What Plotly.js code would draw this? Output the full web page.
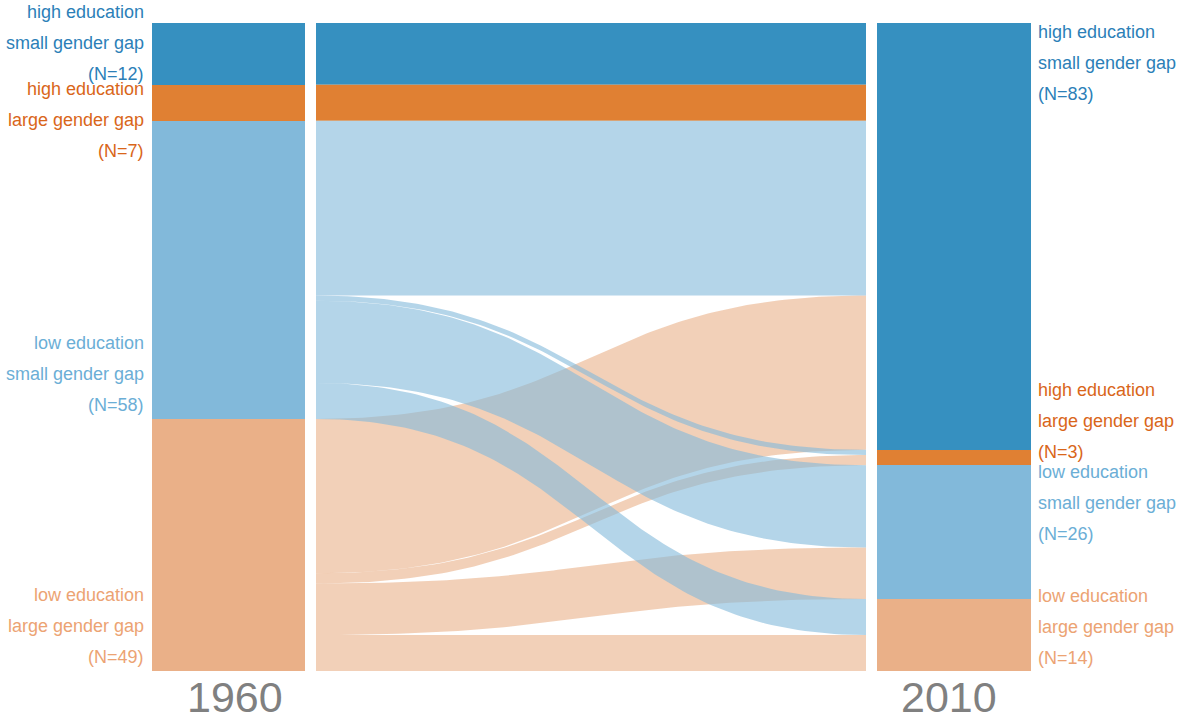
<!DOCTYPE html>
<html>
<head>
<meta charset="utf-8">
<script src="https://cdn.plot.ly/plotly-3.0.1.min.js"></script>
<style>html,body{margin:0;padding:0;background:#fff;}#chart{width:1180px;height:719px;}</style>
</head>
<body>
<div id="chart"></div>
<script>
// ---------- data ----------
const years = ['1960', '2010'];
const eduLabels = ['high education', 'high education', 'low education', 'low education'];
const gapLabels = ['small gender gap', 'large gender gap', 'small gender gap', 'large gender gap'];
const n1960 = [12, 7, 58, 49];
const n2010 = [83, 3, 26, 14];
// flows from each 1960 group to the 2010 groups (same order as above)
const flowFromHighSmall = [12, 0, 0, 0];
const flowFromHighLarge = [7, 0, 0, 0];
const flowFromLowSmall  = [34, 1, 16, 7];
const flowFromLowLarge  = [30, 2, 10, 7];
const flows = [flowFromHighSmall, flowFromHighLarge, flowFromLowSmall, flowFromLowLarge];

// ---------- styles / layout ----------
const barColors  = ['#3690c0', '#e08033', '#82b9da', '#eab088'];
const ribbonColors = ['#3690c0', '#e08033', 'rgba(130,185,218,0.6)', 'rgba(234,176,136,0.6)'];
const textColors = ['#2c7fb8', '#d9661a', '#6baed6', '#eca373'];
const colCenters = [228.5, 954];
const barWidth = 153.5;
const ribbonX0 = 316, ribbonX1 = 866;
const plotTop = 23, plotH = 648;
const labelFirstLeft = [12, 89, 343, 595];
const labelFirstRight = [32, 390, 472, 596];
const lineGap = 31;
const font = 'Liberation Sans, Arial, sans-serif';
const total = n1960.reduce((a, b) => a + b, 0);

function paperY(px) { return 1 - (px - plotTop) / plotH; }

const traces = [];

// ribbons: compute offsets
const srcTop = [], tgtTop = [];
let acc = 0; n1960.forEach(v => { srcTop.push(acc); acc += v; });
acc = 0; n2010.forEach(v => { tgtTop.push(acc); acc += v; });
const srcCursor = srcTop.slice();
const tgtCursor = tgtTop.slice();
const ribbons = [];
for (let i = 0; i < flows.length; i++) {
  for (let j = 0; j < flows[i].length; j++) {
    const v = flows[i][j];
    if (!v) continue;
    const a0 = srcCursor[i], a1 = a0 + v;
    const b0 = tgtCursor[j], b1 = b0 + v;
    srcCursor[i] = a1; tgtCursor[j] = b1;
    ribbons.push({i, j, a0, a1, b0, b1});
  }
}
function bez(p0, p1, p2, p3, t) {
  const u = 1 - t;
  return u*u*u*p0 + 3*u*u*t*p1 + 3*u*t*t*p2 + t*t*t*p3;
}
const xm = (ribbonX0 + ribbonX1) / 2;
const N = 100;
// draw order: dark ones, then orange light, then blue light on top
const order = [0, 1, 3, 2];
order.forEach(src => {
  ribbons.filter(r => r.i === src).forEach(r => {
    const xs = [], ys = [];
    for (let k = 0; k <= N; k++) {
      const t = k / N;
      xs.push(bez(ribbonX0, xm, xm, ribbonX1, t));
      ys.push(bez(r.a0, r.a0, r.b0, r.b0, t));
    }
    for (let k = N; k >= 0; k--) {
      const t = k / N;
      xs.push(bez(ribbonX0, xm, xm, ribbonX1, t));
      ys.push(bez(r.a1, r.a1, r.b1, r.b1, t));
    }
    xs.push(xs[0]); ys.push(ys[0]);
    traces.push({
      type: 'scatter', mode: 'lines', x: xs, y: ys, fill: 'toself',
      fillcolor: ribbonColors[src],
      line: {color: 'rgba(0,0,0,0)', width: 0},
      hoverinfo: 'skip', showlegend: false
    });
  });
});

// node bars
for (let c = 0; c < barColors.length; c++) {
  traces.push({
    type: 'bar', x: colCenters, y: [n1960[c], n2010[c]], width: barWidth,
    marker: {color: barColors[c], line: {width: 0}},
    hoverinfo: 'skip', showlegend: false
  });
}

// labels
const annotations = [];
function addLabels(counts, firstPx, x, anchor) {
  counts.forEach((n, c) => {
    const lines = [eduLabels[c], gapLabels[c], '(N=' + n + ')'];
    lines.forEach((txt, k) => {
      annotations.push({
        xref: 'x', yref: 'paper', x: x, y: paperY(firstPx[c] + k * lineGap),
        xanchor: anchor, yanchor: 'middle', text: txt, showarrow: false,
        font: {family: font, size: 18, color: textColors[c]}
      });
    });
  });
}
addLabels(n1960, labelFirstLeft, 146, 'right');
addLabels(n2010, labelFirstRight, 1036, 'left');
const yearX = [235, 949];
years.forEach((yr, k) => {
  annotations.push({
    xref: 'x', yref: 'paper', x: yearX[k], y: paperY(696.5),
    xanchor: 'center', yanchor: 'middle', text: yr, showarrow: false,
    font: {family: font, size: 43, color: '#808080'}
  });
});

const layout = {
  width: 1180, height: 719,
  margin: {l: 0, r: 0, t: plotTop, b: 719 - plotTop - plotH, pad: 0},
  paper_bgcolor: '#fff', plot_bgcolor: '#fff',
  barmode: 'stack', bargap: 0,
  xaxis: {range: [0, 1180], visible: false, fixedrange: true},
  yaxis: {range: [total, 0], visible: false, fixedrange: true},
  showlegend: false,
  annotations: annotations
};
Plotly.newPlot('chart', traces, layout, {displayModeBar: false, staticPlot: true});
</script>
</body>
</html>
